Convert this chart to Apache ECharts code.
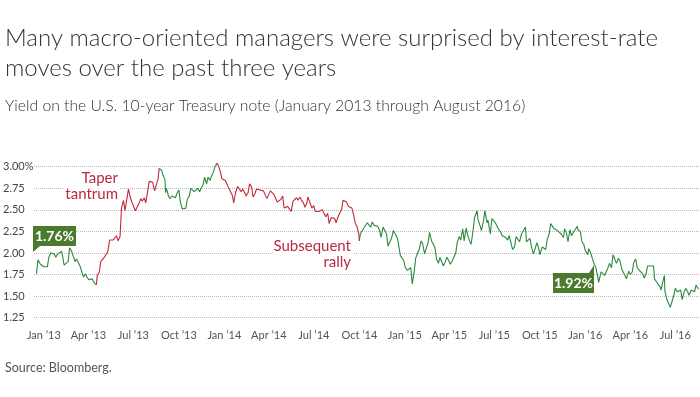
<!DOCTYPE html>
<html>
<head>
<meta charset="utf-8">
<script src="https://cdn.jsdelivr.net/npm/echarts@6/dist/echarts.min.js"></script>
<style>
  html, body { margin: 0; padding: 0; background: #fff; }
  #chart { width: 700px; height: 397px; }
</style>
</head>
<body>
<div id="chart"></div>
<script>
// 10-year Treasury yield (roughly two points a week)
const dates = [
  '2012-12-31','2013-01-02','2013-01-03','2013-01-08','2013-01-11','2013-01-15','2013-01-18','2013-01-22','2013-01-25','2013-01-29',
  '2013-02-01','2013-02-05','2013-02-08','2013-02-12','2013-02-15','2013-02-20','2013-02-25','2013-02-28','2013-03-05','2013-03-08',
  '2013-03-12','2013-03-15','2013-03-19','2013-03-22','2013-03-26','2013-03-29','2013-04-02','2013-04-05','2013-04-09','2013-04-12',
  '2013-04-16','2013-04-19','2013-04-23','2013-04-26','2013-04-30','2013-05-01','2013-05-03','2013-05-07','2013-05-10','2013-05-14',
  '2013-05-17','2013-05-21','2013-05-24','2013-05-28','2013-05-31','2013-06-04','2013-06-07','2013-06-11','2013-06-14','2013-06-18',
  '2013-06-21','2013-06-25','2013-06-28','2013-07-02','2013-07-05','2013-07-09','2013-07-12','2013-07-16','2013-07-19','2013-07-23',
  '2013-07-26','2013-07-30','2013-08-02','2013-08-06','2013-08-09','2013-08-13','2013-08-16','2013-08-20','2013-08-23','2013-08-27',
  '2013-08-30','2013-09-03','2013-09-05','2013-09-10','2013-09-13','2013-09-17','2013-09-18','2013-09-20','2013-09-24','2013-09-27',
  '2013-10-01','2013-10-04','2013-10-08','2013-10-11','2013-10-15','2013-10-18','2013-10-22','2013-10-25','2013-10-29','2013-11-01',
  '2013-11-05','2013-11-08','2013-11-12','2013-11-15','2013-11-19','2013-11-22','2013-11-26','2013-11-29','2013-12-03','2013-12-06',
  '2013-12-10','2013-12-13','2013-12-17','2013-12-20','2013-12-24','2013-12-27','2013-12-31',
  '2014-01-03','2014-01-07','2014-01-10','2014-01-14','2014-01-17','2014-01-21','2014-01-24','2014-01-28','2014-01-31','2014-02-03',
  '2014-02-07','2014-02-11','2014-02-14','2014-02-18','2014-02-21','2014-02-25','2014-02-28','2014-03-04','2014-03-07','2014-03-11',
  '2014-03-14','2014-03-18','2014-03-21','2014-03-25','2014-03-28','2014-04-01','2014-04-04','2014-04-08','2014-04-11','2014-04-15',
  '2014-04-18','2014-04-22','2014-04-25','2014-04-29','2014-05-02','2014-05-06','2014-05-09','2014-05-13','2014-05-16','2014-05-20',
  '2014-05-23','2014-05-27','2014-05-30','2014-06-03','2014-06-06','2014-06-10','2014-06-13','2014-06-17','2014-06-20','2014-06-24',
  '2014-06-27','2014-07-01','2014-07-03','2014-07-08','2014-07-11','2014-07-15','2014-07-18','2014-07-22','2014-07-25','2014-07-29',
  '2014-08-01','2014-08-05','2014-08-08','2014-08-12','2014-08-15','2014-08-19','2014-08-22','2014-08-26','2014-08-29','2014-09-02',
  '2014-09-05','2014-09-09','2014-09-12','2014-09-16','2014-09-19','2014-09-23','2014-09-26','2014-09-30','2014-10-03','2014-10-07',
  '2014-10-10','2014-10-14','2014-10-15','2014-10-17','2014-10-21','2014-10-24','2014-10-28','2014-10-31','2014-11-04','2014-11-07',
  '2014-11-10','2014-11-14','2014-11-18','2014-11-21','2014-11-25','2014-11-28','2014-12-02','2014-12-05','2014-12-09','2014-12-12',
  '2014-12-16','2014-12-19','2014-12-23','2014-12-26','2014-12-31',
  '2015-01-02','2015-01-06','2015-01-09','2015-01-13','2015-01-16','2015-01-20','2015-01-23','2015-01-27','2015-01-30','2015-02-03',
  '2015-02-06','2015-02-10','2015-02-13','2015-02-17','2015-02-20','2015-02-24','2015-02-27','2015-03-03','2015-03-06','2015-03-10',
  '2015-03-13','2015-03-17','2015-03-20','2015-03-24','2015-03-27','2015-03-31','2015-04-03','2015-04-07','2015-04-10','2015-04-14',
  '2015-04-17','2015-04-21','2015-04-24','2015-04-28','2015-05-01','2015-05-05','2015-05-08','2015-05-12','2015-05-15','2015-05-19',
  '2015-05-22','2015-05-26','2015-05-29','2015-06-02','2015-06-05','2015-06-10','2015-06-12','2015-06-16','2015-06-19','2015-06-23',
  '2015-06-26','2015-06-30','2015-07-02','2015-07-07','2015-07-10','2015-07-14','2015-07-17','2015-07-21','2015-07-24','2015-07-28',
  '2015-07-31','2015-08-04','2015-08-07','2015-08-11','2015-08-14','2015-08-18','2015-08-21','2015-08-25','2015-08-28','2015-09-01',
  '2015-09-04','2015-09-08','2015-09-11','2015-09-16','2015-09-18','2015-09-22','2015-09-25','2015-09-29','2015-10-02','2015-10-06',
  '2015-10-09','2015-10-13','2015-10-15','2015-10-20','2015-10-23','2015-10-27','2015-10-30','2015-11-03','2015-11-06','2015-11-10',
  '2015-11-13','2015-11-17','2015-11-20','2015-11-24','2015-11-27','2015-12-02','2015-12-04','2015-12-08','2015-12-11','2015-12-15',
  '2015-12-18','2015-12-22','2015-12-24','2015-12-30','2015-12-31',
  '2016-01-05','2016-01-08','2016-01-12','2016-01-15','2016-01-20','2016-01-22','2016-01-26','2016-01-29','2016-02-02','2016-02-05',
  '2016-02-09','2016-02-11','2016-02-16','2016-02-19','2016-02-23','2016-02-26','2016-03-01','2016-03-04','2016-03-08','2016-03-11',
  '2016-03-15','2016-03-18','2016-03-22','2016-03-25','2016-03-29','2016-04-01','2016-04-05','2016-04-07','2016-04-12','2016-04-15',
  '2016-04-19','2016-04-22','2016-04-26','2016-04-29','2016-05-03','2016-05-06','2016-05-10','2016-05-13','2016-05-17','2016-05-20',
  '2016-05-24','2016-05-27','2016-06-01','2016-06-03','2016-06-07','2016-06-10','2016-06-14','2016-06-16','2016-06-20','2016-06-23',
  '2016-06-24','2016-06-28','2016-07-01','2016-07-05','2016-07-08','2016-07-12','2016-07-15','2016-07-19','2016-07-22','2016-07-26',
  '2016-07-29','2016-08-02','2016-08-05','2016-08-09','2016-08-12','2016-08-16','2016-08-19','2016-08-23','2016-08-26','2016-08-31'
];
const yields = [
  1.76,1.86,1.92,1.87,1.88,1.84,1.84,1.84,1.95,2.00,
  2.02,1.99,1.95,1.99,2.00,2.02,1.86,1.88,1.90,2.06,
  2.02,2.00,1.90,1.93,1.92,1.85,1.84,1.72,1.76,1.72,
  1.69,1.70,1.70,1.66,1.67,1.63,1.74,1.78,1.90,1.92,
  1.95,1.93,2.01,2.15,2.13,2.15,2.17,2.20,2.14,2.19,
  2.52,2.61,2.49,2.48,2.74,2.64,2.59,2.53,2.49,2.49,
  2.57,2.63,2.60,2.64,2.58,2.72,2.83,2.82,2.82,2.72,
  2.78,2.86,2.98,2.96,2.90,2.85,2.70,2.75,2.66,2.63,
  2.66,2.65,2.64,2.69,2.73,2.59,2.51,2.51,2.52,2.62,
  2.66,2.75,2.77,2.71,2.71,2.75,2.71,2.75,2.79,2.88,
  2.80,2.88,2.84,2.89,2.94,3.00,3.04,
  3.01,2.94,2.86,2.88,2.84,2.82,2.75,2.77,2.67,2.58,
  2.71,2.77,2.75,2.71,2.74,2.70,2.66,2.70,2.80,2.77,
  2.65,2.69,2.74,2.75,2.73,2.75,2.72,2.70,2.63,2.63,
  2.72,2.72,2.68,2.70,2.59,2.61,2.62,2.66,2.52,2.52,
  2.54,2.52,2.48,2.60,2.60,2.64,2.61,2.65,2.61,2.58,
  2.53,2.58,2.65,2.57,2.52,2.55,2.48,2.47,2.48,2.48,
  2.50,2.49,2.42,2.46,2.34,2.41,2.40,2.40,2.35,2.42,
  2.46,2.50,2.61,2.59,2.59,2.54,2.54,2.52,2.45,2.34,
  2.31,2.22,2.14,2.22,2.22,2.29,2.29,2.35,2.35,2.30,
  2.36,2.32,2.33,2.31,2.26,2.18,2.30,2.31,2.22,2.08,
  2.06,2.17,2.26,2.25,2.17,
  2.11,1.97,1.95,1.91,1.83,1.80,1.80,1.83,1.64,1.79,
  1.94,2.00,2.04,2.14,2.11,1.99,1.99,2.12,2.24,2.14,
  2.11,2.06,1.93,1.88,1.95,1.94,1.85,1.90,1.95,1.91,
  1.87,1.91,1.93,2.00,2.12,2.19,2.15,2.28,2.14,2.29,
  2.21,2.14,2.10,2.26,2.41,2.49,2.39,2.32,2.26,2.37,
  2.49,2.35,2.38,2.22,2.40,2.40,2.35,2.33,2.27,2.24,
  2.20,2.22,2.18,2.15,2.20,2.19,2.04,2.07,2.19,2.17,
  2.13,2.22,2.20,2.30,2.13,2.14,2.17,2.05,1.99,2.06,
  2.12,2.05,1.98,2.07,2.09,2.04,2.16,2.22,2.34,2.35,
  2.28,2.27,2.26,2.24,2.22,2.18,2.28,2.23,2.13,2.27,
  2.20,2.24,2.25,2.31,2.27,
  2.25,2.13,2.10,2.03,1.98,2.05,2.00,1.94,1.87,1.84,
  1.73,1.66,1.78,1.76,1.74,1.76,1.83,1.88,1.83,1.98,
  1.97,1.88,1.94,1.91,1.81,1.79,1.73,1.70,1.79,1.75,
  1.78,1.89,1.93,1.83,1.80,1.79,1.76,1.71,1.76,1.85,
  1.86,1.85,1.85,1.70,1.72,1.64,1.61,1.57,1.67,1.74,
  1.56,1.46,1.46,1.37,1.37,1.51,1.59,1.55,1.57,1.57,
  1.46,1.55,1.59,1.55,1.51,1.57,1.58,1.55,1.63,1.58
];

// stretches drawn in red (taper tantrum, subsequent rally)
const redRanges = [['2013-05-01', '2013-09-05'], ['2013-12-31', '2014-10-15']];
const greenRanges = [['2012-12-31', '2013-05-01'], ['2013-09-05', '2013-12-31'], ['2014-10-15', '2016-08-31']];

// x labels sit mid-month
const xLabelDates = [
  '2013-01-15','2013-04-15','2013-07-15','2013-10-15','2014-01-15','2014-04-15','2014-07-15','2014-10-15',
  '2015-01-15','2015-04-15','2015-07-15','2015-10-15','2016-01-15','2016-04-15','2016-07-15'
];
const monthNames = ['Jan','Feb','Mar','Apr','May','Jun','Jul','Aug','Sep','Oct','Nov','Dec'];

const GREEN = '#2a8a3e';
const RED = '#c2293b';
const FONT = 'Lato, "Noto Sans", sans-serif';

function ts(d) { return new Date(d + 'T00:00:00Z').getTime(); }

function segment(from, to) {
  const a = ts(from), b = ts(to);
  const out = [];
  dates.forEach((d, i) => {
    const t = ts(d);
    if (t >= a && t <= b) out.push([t, yields[i]]);
  });
  return out;
}

function lineSeries(range, color) {
  return {
    type: 'line',
    data: segment(range[0], range[1]),
    showSymbol: false,
    symbol: 'none',
    silent: true,
    clip: false,
    lineStyle: { color: color, width: 1.1 },
    emphasis: { disabled: true }
  };
}

const chart = echarts.init(document.getElementById('chart'));

const option = {
  backgroundColor: '#fff',
  animation: false,
  textStyle: { fontFamily: FONT },
  title: [
    {
      text: 'Many macro-oriented managers were surprised by interest-rate\nmoves over the past three years',
      left: 5, top: 23, padding: 0,
      textStyle: { fontFamily: FONT, fontSize: 24, fontWeight: 300, color: '#333', lineHeight: 30 }
    },
    {
      text: 'Yield on the U.S. 10-year Treasury note (January 2013 through August 2016)',
      left: 5, top: 98, padding: 0,
      textStyle: { fontFamily: FONT, fontSize: 15.7, fontWeight: 300, color: '#333' }
    },
    {
      text: 'Source: Bloomberg.',
      left: 5, top: 361, padding: 0,
      textStyle: { fontFamily: FONT, fontSize: 12.5, fontWeight: 'normal', color: '#555' }
    }
  ],
  grid: { left: 33, right: 0, top: 166.7, bottom: 79.3 },
  xAxis: {
    type: 'value',
    min: ts('2012-12-26'),
    max: ts('2016-09-03'),
    axisLine: { show: false },
    axisTick: { show: false },
    splitLine: { show: false },
    axisLabel: {
      customValues: xLabelDates.map(ts),
      margin: 12,
      fontSize: 11,
      color: '#555',
      fontFamily: FONT,
      formatter: function (v) {
        const d = new Date(v);
        return monthNames[d.getUTCMonth()] + ' \u2019' + String(d.getUTCFullYear()).slice(2);
      }
    }
  },
  yAxis: {
    type: 'value',
    min: 1.25,
    max: 3.0,
    interval: 0.25,
    axisLine: { show: false },
    axisTick: { show: false },
    splitLine: { lineStyle: { color: '#b8b8b8', type: 'dotted', width: 1 } },
    axisLabel: {
      align: 'left',
      margin: 31,
      fontSize: 11,
      color: '#444',
      fontFamily: FONT,
      formatter: function (v) { return v === 3 ? '3.00%' : v.toFixed(2); }
    }
  },
  series: [
    ...greenRanges.map(r => lineSeries(r, GREEN)),
    ...redRanges.map(r => lineSeries(r, RED))
  ],
  graphic: [
    {
      type: 'polygon', z: 100,
      shape: { points: [[33, 226], [76, 226], [76, 246], [40, 246], [33, 252]] },
      style: { fill: '#4a7a2e' }
    },
    {
      type: 'text', x: 54.5, y: 236, z: 101,
      style: { text: '1.76%', fill: '#fff', font: 'bold 14px ' + FONT, align: 'center', verticalAlign: 'middle' }
    },
    {
      type: 'polygon', z: 100,
      shape: { points: [[553, 273], [589, 273], [594, 265], [594, 293], [553, 293]] },
      style: { fill: '#4a7a2e' }
    },
    {
      type: 'text', x: 573.5, y: 283, z: 101,
      style: { text: '1.92%', fill: '#fff', font: 'bold 14px ' + FONT, align: 'center', verticalAlign: 'middle' }
    },
    {
      type: 'text', x: 120, y: 170, z: 100,
      style: {
        text: 'Taper\ntantrum', fill: '#b82a3d', font: '15px ' + FONT, align: 'right', verticalAlign: 'top',
        lineHeight: 16, backgroundColor: '#fff', padding: [0, 2, 0, 2]
      }
    },
    {
      type: 'text', x: 353, y: 238, z: 100,
      style: {
        text: 'Subsequent\nrally', fill: '#b82a3d', font: '15px ' + FONT, align: 'right', verticalAlign: 'top',
        lineHeight: 16, backgroundColor: '#fff', padding: [0, 2, 0, 2]
      }
    }
  ]
};

chart.setOption(option);
</script>
</body>
</html>
